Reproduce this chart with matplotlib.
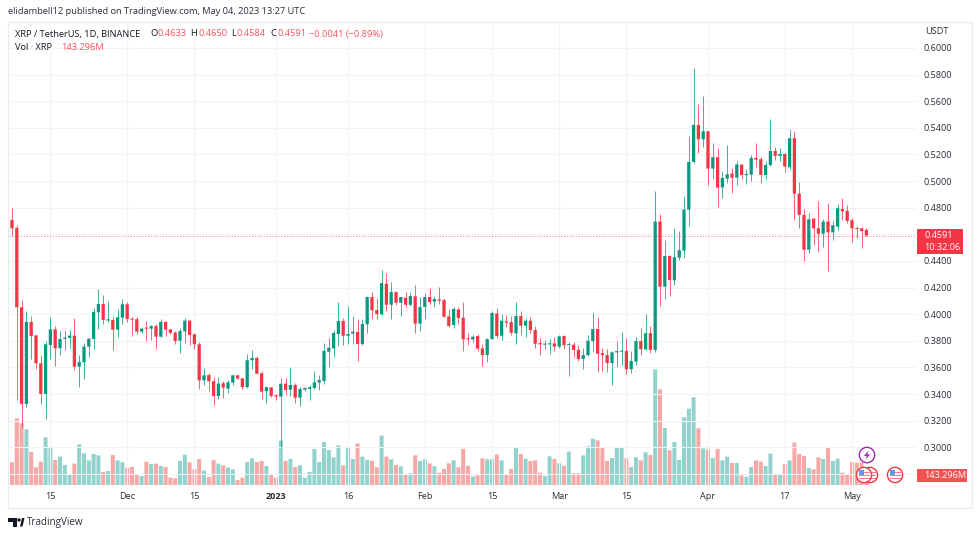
import matplotlib
matplotlib.use("Agg")
import matplotlib.pyplot as plt
from matplotlib.patches import Rectangle, Circle, Polygon
from matplotlib.transforms import Affine2D

W, H = 980, 536
UP, DOWN = "#089981", "#F23645"
TXT = "#131722"
GRID = "#F2F3F6"
FS = 6.65
plt.rcParams['font.family'] = ['Open Sans', 'DejaVu Sans']

opens = [.4708,.4648,.4052,.3326,.3942,.3841,.3631,.3401,.3769,.3886,.3744,.3814,.3821,.3839,.3606,.3639,.3756,.3814,.4014,.4077,
.3952,.3957,.3884,.3974,.4074,.3964,.3962,.3869,.3894,.3891,.3911,.3831,.3942,.3886,.3861,.3801,.3871,.3952,.3849,.3774,
.3503,.3543,.3496,.3386,.3481,.3441,.3486,.3541,.3518,.3453,.3654,.3671,.3556,.3421,.3451,.3391,.3381,.3478,.3433,.3468,
.3373,.3433,.3438,.3446,.3486,.3498,.3718,.3743,.3851,.3949,.3838,.3854,.3866,.3776,.3924,.4129,.4031,.3999,.4229,.4071,
.4166,.4086,.4124,.4071,.4134,.3929,.4054,.4129,.4094,.4111,.4106,.3984,.3919,.4036,.3974,.3816,.3811,.3836,.3743,.3693,
.3813,.4006,.3838,.3946,.3941,.3856,.3986,.3914,.3951,.3881,.3783,.3771,.3773,.3781,.3756,.3836,.3768,.3771,.3733,.3663,
.3693,.3798,.3889,.3706,.3693,.3633,.3713,.3718,.3723,.3586,.3643,.3798,.3736,.3857,.3732,.4696,.4207,.4438,.4255,.4425,
.4478,.4786,.5144,.5422,.5314,.5374,.5094,.5179,.4953,.5019,.5056,.5026,.5124,.5046,.5049,.5174,.5164,.5046,.5121,.5226,
.5189,.5204,.5104,.5322,.4906,.4746,.4485,.4718,.4645,.4605,.4696,.4615,.4658,.4791,.4776,.4706,.4648,.4645,.4633]
closes = [.4645,.4052,.3326,.3942,.3836,.3631,.3401,.3774,.3886,.3744,.3814,.3824,.3839,.3606,.3641,.3756,.3816,.4017,.4077,.3957,
.3962,.3884,.3977,.4074,.3964,.3959,.3869,.3891,.3891,.3911,.3831,.3942,.3884,.3859,.3799,.3874,.3952,.3844,.3774,.3503,
.3541,.3496,.3386,.3478,.3448,.3488,.3541,.3516,.3453,.3654,.3671,.3553,.3418,.3451,.3386,.3381,.3478,.3431,.3468,.3373,
.3438,.3446,.3451,.3488,.3506,.3724,.3748,.3859,.3949,.3838,.3851,.3869,.3776,.3926,.4129,.4029,.4001,.4234,.4071,.4166,
.4086,.4129,.4071,.4136,.3929,.4054,.4129,.4091,.4114,.4101,.3981,.3911,.4039,.3971,.3811,.3811,.3831,.3741,.3693,.3813,
.4009,.3836,.3951,.3936,.3861,.3986,.3914,.3951,.3881,.3778,.3773,.3776,.3781,.3756,.3833,.3768,.3776,.3731,.3663,.3693,
.3801,.3889,.3703,.3693,.3633,.3713,.3723,.3723,.3586,.3648,.3798,.3736,.3857,.3732,.4696,.4207,.4438,.4257,.4428,.4480,
.4786,.5144,.5422,.5314,.5374,.5094,.5179,.4951,.5024,.5051,.5026,.5124,.5046,.5054,.5174,.5161,.5046,.5121,.5226,.5189,
.5204,.5109,.5322,.4906,.4746,.4485,.4713,.4645,.4605,.4696,.4615,.4668,.4796,.4773,.4701,.4645,.4640,.4625,.4591]
highs = [.4795,.4670,.4107,.4027,.3987,.3844,.3694,.3799,.3977,.3911,.3874,.3876,.3881,.3972,.3691,.3781,.3821,.4047,.4189,.4142,
.4097,.3987,.4037,.4112,.4089,.3977,.3977,.3906,.3947,.3921,.3924,.3962,.3949,.3891,.3874,.3896,.3972,.3957,.3861,.3794,
.3596,.3556,.3526,.3531,.3496,.3506,.3549,.3546,.3523,.3701,.3731,.3686,.3576,.3458,.3453,.3398,.3518,.3518,.3601,.3486,
.3456,.3453,.3468,.3573,.3541,.3781,.3818,.3881,.4089,.3969,.4061,.3986,.3961,.3964,.4136,.4169,.4119,.4332,.4312,.4242,
.4171,.4131,.4166,.4169,.4219,.4131,.4156,.4194,.4136,.4201,.4119,.4036,.4051,.4056,.4091,.3856,.3846,.3851,.3776,.3823,
.4024,.4049,.3999,.3994,.3986,.4089,.4024,.3969,.3981,.3911,.3818,.3806,.3811,.3826,.3843,.3841,.3793,.3788,.3768,.3743,
.3843,.4016,.3976,.3748,.3738,.3723,.3798,.3869,.3823,.3723,.3831,.3894,.4001,.3912,.4926,.4751,.4558,.4443,.4645,.4628,
.4888,.5339,.5847,.5577,.5640,.5377,.5289,.5249,.5076,.5271,.5096,.5154,.5131,.5091,.5196,.5284,.5179,.5151,.5467,.5259,
.5246,.5209,.5389,.5377,.4991,.4788,.4758,.4726,.4853,.4718,.4833,.4698,.4828,.4871,.4818,.4726,.4666,.4653,.4650]
lows = [.4588,.3356,.3153,.3300,.3661,.3591,.3326,.3213,.3666,.3611,.3691,.3731,.3746,.3581,.3456,.3513,.3681,.3739,.3889,.3927,
.3944,.3731,.3826,.3929,.3944,.3836,.3849,.3861,.3796,.3806,.3736,.3826,.3839,.3851,.3774,.3706,.3786,.3766,.3736,.3441,
.3466,.3426,.3321,.3361,.3371,.3411,.3471,.3511,.3438,.3448,.3589,.3551,.3361,.3336,.3381,.3356,.3002,.3393,.3388,.3331,
.3313,.3426,.3356,.3438,.3431,.3476,.3606,.3681,.3761,.3768,.3776,.3776,.3651,.3766,.3861,.3964,.3961,.3996,.4024,.3964,
.4069,.3989,.4056,.4061,.3861,.3874,.3961,.4074,.4051,.4076,.3976,.3904,.3899,.3926,.3726,.3768,.3793,.3721,.3611,.3643,
.3811,.3818,.3806,.3906,.3844,.3773,.3844,.3826,.3856,.3743,.3691,.3741,.3701,.3726,.3743,.3736,.3538,.3681,.3651,.3591,
.3686,.3718,.3568,.3571,.3568,.3468,.3606,.3618,.3551,.3561,.3618,.3693,.3731,.3706,.3719,.4065,.4115,.4137,.4220,.4408,
.4423,.4663,.5139,.5214,.5254,.4971,.5014,.4808,.4871,.4989,.4913,.4971,.5016,.4979,.5001,.5109,.4989,.5014,.5114,.5159,
.5154,.5066,.5094,.4708,.4650,.4403,.4458,.4523,.4470,.4505,.4327,.4558,.4633,.4708,.4688,.4545,.4575,.4495,.4584]
volumes = [336,979,906,818,487,263,346,701,550,370,419,297,161,317,599,468,365,458,438,195,
209,443,365,336,258,268,161,136,346,312,317,282,268,112,102,356,448,336,234,385,
214,122,370,317,292,258,234,78,112,341,394,341,356,282,151,112,653,356,385,268,
292,112,195,531,341,633,516,409,584,292,550,385,614,419,370,356,263,726,419,380,
297,278,161,175,438,356,380,321,278,185,239,321,365,263,531,287,131,146,394,380,
380,453,365,156,239,555,458,390,356,365,185,136,424,385,321,287,492,175,175,438,
570,682,657,550,356,399,560,550,394,268,409,365,482,443,1695,1403,838,511,633,370,
993,1120,1286,833,541,521,399,531,365,419,326,326,146,127,268,365,346,282,463,161,
166,307,365,623,458,429,253,234,409,385,560,356,390,185,151,341,331,336,143.296]

time_ticks = [8, 24, 38, 55, 70, 86, 100, 114, 128, 145, 161, 175]
time_labels = ["15", "Dec", "15", "2023", "16", "Feb", "15", "Mar", "15", "Apr", "17", "May"]
price_ticks = [.60,.58,.56,.54,.52,.50,.48,.46,.44,.42,.40,.38,.36,.34,.32,.30,.28]
price_labels = ["0.6000","0.5800","0.5600","0.5400","0.5200","0.5000","0.4800","","0.4400","0.4200",
                "0.4000","0.3800","0.3600","0.3400","0.3200","0.3000",""]
last_price = 0.4591

fig = plt.figure(figsize=(W/100, H/100), dpi=100, facecolor="white")

def fx(x): return x / W
def fy(y): return 1 - y / H

L, R, T, B = 9, 916, 23, 485.3
ax = fig.add_axes([fx(L), fy(B), (R-L)/W, (B-T)/H], facecolor="none", zorder=3)
axv = fig.add_axes([fx(L), fy(B), (R-L)/W, (B-T)/H], facecolor="none", zorder=2)
days = list(range(len(closes)))

xlim = ((L-12)/4.8, (R-12)/4.8)
ax.set_xlim(*xlim); axv.set_xlim(*xlim)
ax.set_ylim(0.6 - (B-48)/1331, 0.6 - (T-48)/1331)
axv.set_ylim(0, (B-T) * 14.62)

cols = [UP if c >= o else DOWN for o, c in zip(opens, closes)]
vcols = ["#26A69A80" if c >= o else "#EF535080" for o, c in zip(opens, closes)]

vbars = axv.bar(days, volumes, width=0.84, color=vcols, linewidth=0)
for b in vbars:
    b.set_snap(False)
axv.set_xticks([]); axv.set_yticks([])
for s in axv.spines.values(): s.set_visible(False)

ax.vlines(days, lows, highs, colors=cols, linewidth=0.72, alpha=0.75, zorder=3)
bodies = ax.bar(days, [max(abs(c-o), 0.0008) for o, c in zip(opens, closes)],
       bottom=[min(o, c) for o, c in zip(opens, closes)],
       width=0.68, color=cols, linewidth=0, zorder=4)
for b in bodies:
    b.set_snap(False)

ax.axhline(last_price, color=DOWN, linewidth=0.8, linestyle=(0, (1, 1.6)), alpha=0.55, zorder=2)

ax.set_yticks(price_ticks); ax.set_yticklabels(price_labels)
ax.yaxis.tick_right()
ax.set_xticks(time_ticks); ax.set_xticklabels(time_labels)
ax.tick_params(axis="both", length=0, labelsize=6.6, labelcolor="#2A2E39")
ax.tick_params(axis="y", pad=5.5)
ax.tick_params(axis="x", pad=5)
for lab, t_ in zip(ax.get_xticklabels(), time_labels):
    if t_ == "2023":
        lab.set_fontweight("bold")
ax.grid(True, color=GRID, linewidth=0.8, zorder=0)
ax.set_axisbelow(True)
for s in ax.spines.values(): s.set_visible(False)

fig.add_artist(Rectangle((fx(8), fy(507.5)), (972-8)/W, (507.5-22)/H, transform=fig.transFigure,
                         fill=False, edgecolor="#E9EBF0", linewidth=0.9, zorder=0))

def t(x, y, s, **k):
    k.setdefault("fontsize", FS); k.setdefault("color", TXT)
    k.setdefault("va", "center"); k.setdefault("ha", "left")
    return fig.text(fx(x), fy(y), s, zorder=10, **k)

t(8, 12, "elidambell12 published on TradingView.com, May 04, 2023 13:27 UTC", color="#2A2E39")
t(15, 34, "XRP / TetherUS, 1D, BINANCE")
RED = "#F7525F"
for x, lab, val in [(150, "O", "0.4633"), (190.5, "H", "0.4650"), (231, "L", "0.4584"), (270, "C", "0.4591")]:
    t(x, 34, lab)
    t(x + 7.5 if lab != "L" else x + 5, 34, val, color=RED)
t(309, 34, "\u22120.0041 (\u22120.89%)", color=RED)
t(15, 47, "Vol \u00b7 XRP")
t(61, 47, "143.296M", color=RED)
t(925, 32, "USDT", color="#2A2E39", fontsize=6.6)

fig.add_artist(Rectangle((fx(917), fy(254)), 45.5/W, 25/H, transform=fig.transFigure,
                         facecolor=DOWN, edgecolor="none", zorder=9))
t(924, 235.5, "0.4591", color="white", fontsize=6.6)
t(924, 247, "10:32:06", color="white", fontsize=6.6)
fig.add_artist(Rectangle((fx(917), fy(482)), 50/W, 13/H, transform=fig.transFigure,
                         facecolor="#F05350", edgecolor="none", zorder=9))
t(924, 475.5, "143.296M", color="white", fontsize=6.6)

pxt = Affine2D().scale(1, -1).translate(0, H)
def px_patch(p):
    p.set_transform(pxt); fig.add_artist(p)

def flag(cx, cy, z):
    r = 7.6
    px_patch(Circle((cx, cy), r, facecolor="white", edgecolor="#F23645", linewidth=1.0, zorder=z))
    for yy in [cy-3.4, cy-0.4, cy+2.6]:
        px_patch(Rectangle((cx-5.5, yy), 11, 1.4, facecolor="#F47C84", edgecolor="none", zorder=z))
    px_patch(Rectangle((cx-5.5, cy-5), 5.5, 4.6, facecolor="#5B9CF0", edgecolor="none", zorder=z))

px_patch(Circle((867, 455), 7.7, facecolor="white", edgecolor="#9C27B0", linewidth=1.0, zorder=11))
px_patch(Polygon([(868.5, 450.5), (864, 456), (866.8, 456), (865.5, 459.8), (870, 454.3), (867.2, 454.3)],
                 closed=True, facecolor="#9C27B0", edgecolor="none", zorder=12))
flag(870, 475, 11)
flag(864, 475, 12)
flag(895, 475, 11)

LOGO = "#131722"
px_patch(Polygon([(8, 518), (17, 518), (17, 526.5), (13, 526.5), (13, 521.5), (8, 521.5)],
                 closed=True, facecolor=LOGO, edgecolor="none", zorder=10))
px_patch(Circle((19, 520), 1.7, facecolor=LOGO, edgecolor="none", zorder=10))
px_patch(Polygon([(20, 526.5), (22, 518), (24.5, 518), (22.5, 526.5)],
                 closed=True, facecolor=LOGO, edgecolor="none", zorder=10))
t(27, 522.5, "TradingView", fontsize=7.1, color="#2A2E39")

fig.savefig("out.png", dpi=100, facecolor="white")
